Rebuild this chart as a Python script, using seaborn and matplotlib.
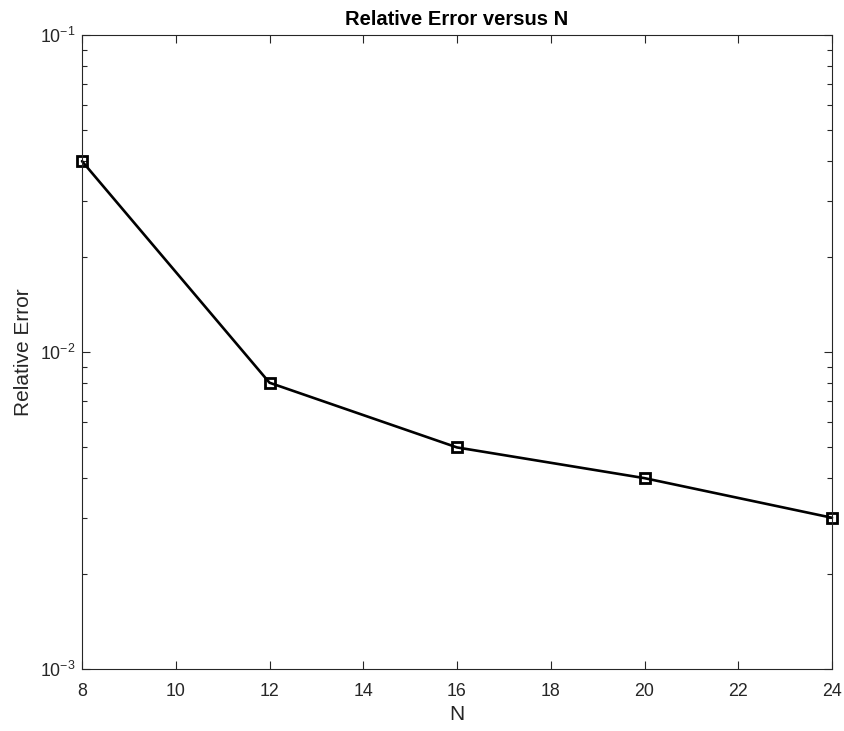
import matplotlib
matplotlib.use("Agg")
import matplotlib.pyplot as plt
import seaborn as sns
import pandas as pd
from matplotlib.ticker import LogLocator, NullFormatter, FixedLocator

N_values = [8, 12, 16, 20, 24]
rel_error = [0.04, 0.008, 0.005, 0.004, 0.003]
x_ticks = [8, 10, 12, 14, 16, 18, 20, 22, 24]

sns.set_style("white")
plt.rcParams['font.family'] = ['Liberation Sans', 'DejaVu Sans']
plt.rcParams['mathtext.fontset'] = 'custom'
plt.rcParams['mathtext.rm'] = 'Liberation Sans'
plt.rcParams['mathtext.it'] = 'Liberation Sans'

df = pd.DataFrame({"N": N_values, "err": rel_error})

fig = plt.figure(figsize=(8.44, 7.31), dpi=100)
ax = fig.add_axes([82/844, 1-669/731, (832-82)/844, (669-35)/731])

sns.lineplot(data=df, x="N", y="err", ax=ax, color="black", linewidth=1.9,
             marker="s", markersize=7.5, markerfacecolor="none",
             markeredgecolor="black", markeredgewidth=2.0, clip_on=False)

ax.set_yscale("log")
ax.set_ylim(1e-3, 1e-1)
ax.set_xlim(8, 24)
ax.xaxis.set_major_locator(FixedLocator(x_ticks))
ax.set_xticklabels([str(t) for t in x_ticks])
ax.yaxis.set_major_locator(LogLocator(base=10, numticks=10))
ax.yaxis.set_minor_locator(LogLocator(base=10, subs=range(2, 10), numticks=20))
ax.yaxis.set_minor_formatter(NullFormatter())

tc = "#262626"
for s in ax.spines.values():
    s.set_visible(True)
    s.set_color(tc)
    s.set_linewidth(0.8)
ax.tick_params(axis="both", which="both", direction="in", top=True, right=True,
               left=True, bottom=True, color=tc, labelcolor=tc, labelsize=12.8)
ax.tick_params(which="major", length=6, width=0.8)
ax.tick_params(which="minor", length=3.5, width=0.8)
ax.tick_params(axis="x", pad=10)
ax.tick_params(axis="y", pad=5)

ax.set_xlabel("N", fontsize=15, color=tc, labelpad=4)
ax.set_ylabel("Relative Error", fontsize=15, color=tc, labelpad=5)
ax.set_title("Relative Error versus N", fontsize=14.5, fontweight="bold", color="black", pad=7)

fig.savefig("out.png", dpi=100)
